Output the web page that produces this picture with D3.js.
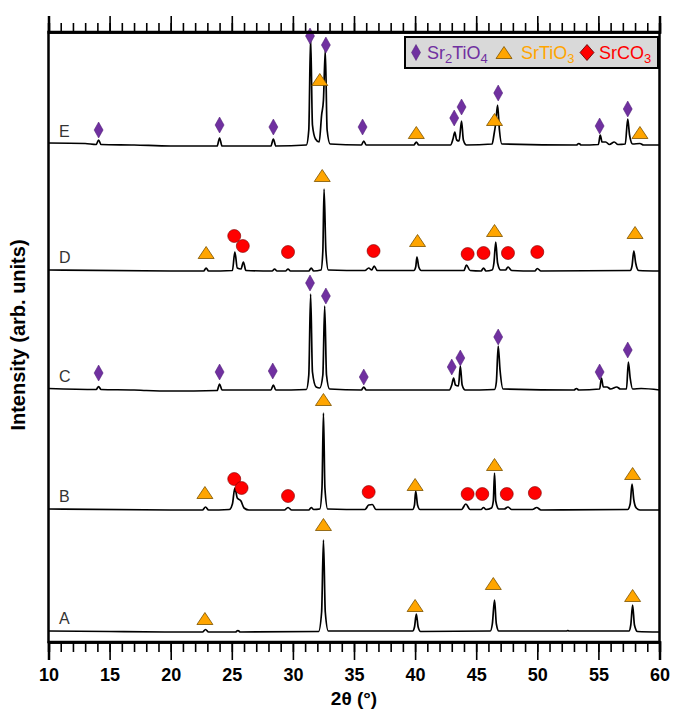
<!DOCTYPE html>
<html>
<head>
<meta charset="utf-8">
<script src="https://cdn.jsdelivr.net/npm/d3@7"></script>
<style>
  body { margin: 0; background: #fff; }
  svg { display: block; font-family: "Liberation Sans", Arial, sans-serif; }
</style>
</head>
<body>
<div id="chart"></div>
<script>
// patterns, [2θ, intensity above the trace baseline]
const traceA = [[10, 1], [15, 0.5], [20, 0], [22.6, 0], [22.85, 2.5], [23.1, 0], [25.3, 0], [25.5, 1.5], [25.7, 0],
  [32.1, 0.5], [32.35, 20], [32.5, 92], [32.65, 20], [32.9, 1], [39.8, 1], [39.95, 5], [40.1, 18], [40.25, 5], [40.45, 0.5],
  [46.15, 1], [46.32, 8], [46.5, 32], [46.65, 8], [46.85, 1], [52.4, 1], [52.5, 1.5], [52.6, 1],
  [57.5, 1], [57.65, 7], [57.8, 27], [57.95, 7], [58.2, 0.5], [60, 0]];
const traceB = [[10, 1], [20, 0], [22.6, 0], [22.85, 3], [23.1, 0], [24.8, 0.5], [25.05, 6], [25.25, 22], [25.45, 12],
  [25.75, 9], [26.0, 2], [26.4, 0], [29.3, 0], [29.6, 2.5], [29.9, 0], [31.3, 0], [31.5, 2.5], [31.7, 0.5],
  [32.2, 1], [32.38, 22], [32.5, 97], [32.62, 22], [32.85, 1], [35.9, 0.5], [36.2, 5], [36.5, 5.5], [36.8, 0.5],
  [39.8, 0.5], [39.95, 5], [40.05, 19], [40.2, 5], [40.4, 0.5], [43.8, 0.5], [44.15, 6], [44.5, 0.5],
  [45.4, 0.5], [45.6, 2.5], [45.8, 0.5], [46.25, 2], [46.4, 9], [46.5, 37], [46.6, 9], [46.85, 1],
  [47.3, 1], [47.6, 3], [47.9, 0.5], [49.6, 0.5], [49.95, 2.5], [50.3, 0],
  [57.4, 0.5], [57.6, 6], [57.75, 26], [57.9, 10], [58.1, 2], [58.4, 0], [60, 0]];
const traceC = [[10, 1.5], [13.9, 0.5], [14.1, 3.5], [14.3, 0.5], [17, 0], [18, -0.5], [20, -1], [23.8, -0.5], [24.0, 6], [24.2, 0],
  [28.2, 0], [28.4, 5], [28.6, 0], [31.1, 0.5], [31.3, 15], [31.45, 96], [31.6, 18], [31.9, 3], [32.2, 2],
  [32.45, 15], [32.6, 84], [32.75, 15], [33.0, 1], [35.6, 0], [35.8, 3], [36.0, 0],
  [42.8, 0], [43.0, 5], [43.15, 12], [43.3, 5], [43.55, 4], [43.7, 24], [43.85, 5], [44.1, 0],
  [46.5, 0.5], [46.65, 8], [46.8, 44], [46.95, 20], [47.2, 1], [53, 0], [53.2, 1.5], [53.4, 0],
  [55.1, 1], [55.25, 12], [55.4, 3], [55.7, 3], [56.0, 1], [56.5, 3], [56.8, 1],
  [57.3, 1], [57.45, 28], [57.6, 12], [57.8, 1], [58.5, 1.5], [60, 0]];
const traceD = [[10, 1], [20, 0], [22.7, 0], [22.9, 3], [23.1, 0], [25.05, 0.5], [25.25, 19], [25.45, 3], [25.75, 2],
  [25.95, 9], [26.15, 0.5], [28.3, 0], [28.5, 2], [28.7, 0], [29.4, 0], [29.6, 2], [29.8, 0], [31.3, 0], [31.5, 3], [31.7, 0],
  [32.3, 1], [32.45, 20], [32.55, 82], [32.7, 20], [32.9, 1], [35.9, 0.5], [36.2, 3], [36.45, 1], [36.65, 5], [36.9, 0.5],
  [39.9, 0.5], [40.05, 4], [40.15, 14], [40.3, 4], [40.5, 0.5], [44.0, 0.5], [44.2, 6], [44.5, 0.5],
  [45.4, 0], [45.6, 3], [45.8, 0], [46.3, 1], [46.45, 8], [46.6, 29], [46.75, 8], [47.0, 1],
  [47.4, 1], [47.6, 4], [47.9, 0.5], [49.8, 0], [50.0, 2.5], [50.3, 0],
  [57.6, 0.5], [57.75, 5], [57.9, 20], [58.05, 8], [58.3, 0.5], [60, 0]];
const traceE = [[10, 2], [13, 1.5], [13.9, 0.5], [14.1, 5], [14.3, 0.5], [17, 0], [20, -1], [23.8, -1], [24.0, 7], [24.2, -1],
  [28.2, -1], [28.4, 6], [28.6, -1], [31.1, 0], [31.3, 15], [31.45, 108], [31.6, 20], [31.85, 6], [32.15, 3],
  [32.35, 30], [32.5, 45], [32.65, 95], [32.8, 15], [33.05, 1], [35.6, 0], [35.8, 4], [36.0, 0],
  [39.9, 0], [40.1, 3], [40.3, 0], [42.9, 0], [43.1, 6], [43.25, 13], [43.4, 5], [43.6, 4], [43.8, 24], [43.95, 5], [44.2, 0],
  [46.3, 1], [46.45, 10], [46.6, 22], [46.75, 40], [46.9, 15], [47.1, 1], [53.2, 0], [53.4, 1.5], [53.6, 0],
  [55.0, 0.5], [55.15, 10], [55.3, 3], [55.6, 3], [55.9, 0.5], [56.3, 3], [56.6, 0.5],
  [57.2, 1], [57.4, 26], [57.55, 10], [57.8, 1], [58.4, 1.5], [58.7, 0], [60, 0]];

const sampleNames = ["A", "B", "C", "D", "E"];
const sampleOffsets = [10, 132, 252, 371, 497];
const samplePatterns = [traceA, traceB, traceC, traceD, traceE];

// phase markers: [sample, 2θ, height above baseline]
const sr2tio4Marks = [
  ["C", 14.1, 17], ["C", 24.0, 18], ["C", 28.35, 19], ["C", 31.4, 107], ["C", 32.7, 94], ["C", 35.8, 13],
  ["C", 43.0, 23], ["C", 43.7, 32], ["C", 46.8, 53], ["C", 55.1, 18], ["C", 57.4, 40],
  ["E", 14.1, 15], ["E", 24.0, 20], ["E", 28.4, 18], ["E", 31.4, 109], ["E", 32.7, 100], ["E", 35.7, 18],
  ["E", 43.2, 27], ["E", 43.8, 38], ["E", 46.8, 52], ["E", 55.1, 19], ["E", 57.4, 36]];
const srtio3Marks = [
  ["A", 22.8, 13], ["A", 32.5, 107], ["A", 40.0, 26], ["A", 46.4, 48], ["A", 57.8, 36],
  ["B", 22.8, 17], ["B", 32.5, 110], ["B", 40.0, 25], ["B", 46.5, 45], ["B", 57.8, 36],
  ["D", 22.9, 18], ["D", 32.4, 95], ["D", 40.2, 30], ["D", 46.5, 40], ["D", 58.0, 38],
  ["E", 32.2, 65], ["E", 40.1, 12], ["E", 46.5, 25], ["E", 58.4, 12]];
const srco3Marks = [
  ["B", 25.2, 31], ["B", 25.8, 22], ["B", 29.6, 14], ["B", 36.2, 18], ["B", 44.3, 16], ["B", 45.5, 16], ["B", 47.5, 16], ["B", 49.8, 17],
  ["D", 25.2, 35], ["D", 25.9, 25], ["D", 29.6, 19], ["D", 36.6, 20], ["D", 44.3, 17], ["D", 45.6, 18], ["D", 47.6, 18], ["D", 50.0, 19]];

const majorTicks = d3.range(10, 61, 5);
const minorTicks = d3.range(10, 61, 1);

const width = 674;
const height = 716;
const purple = "#7030a0", orange = "#ffa500", red = "#ff0000";

const svg = d3.select("#chart").append("svg")
  .attr("width", width)
  .attr("height", height);

const x = d3.scaleLinear().domain([10, 60]).range([48.5, 659.5]);
const y = d3.scaleLinear().domain([0, 610]).range([642, 32]);

const offsetOf = name => sampleOffsets[sampleNames.indexOf(name)];

// traces
const line = d3.line()
  .x(d => x(d[0]))
  .y(d => d[1])
  .curve(d3.curveMonotoneX);

samplePatterns.forEach((pat, i) => {
  svg.append("path")
    .attr("d", line(pat.map(p => [p[0], y(sampleOffsets[i] + p[1])])))
    .attr("fill", "none")
    .attr("stroke", "#000")
    .attr("stroke-width", 1.7)
    .attr("stroke-linejoin", "round");
});

// letters
svg.append("g").selectAll("text")
  .data(sampleNames)
  .join("text")
  .attr("x", 59)
  .attr("y", (d, i) => y(sampleOffsets[i] + 8))
  .attr("font-size", 16)
  .attr("fill", "#333")
  .text(d => d);

// markers
const diamond = "M0,-8L4.5,0L0,8L-4.5,0Z";
const triangle = "M0,-6.5L8,5.5L-8,5.5Z";

svg.append("g").selectAll("path")
  .data(sr2tio4Marks)
  .join("path")
  .attr("d", diamond)
  .attr("transform", d => `translate(${x(d[1])},${y(offsetOf(d[0]) + d[2])})`)
  .attr("fill", purple)
  .attr("stroke", "#4a1a70")
  .attr("stroke-width", 0.5);

svg.append("g").selectAll("path")
  .data(srtio3Marks)
  .join("path")
  .attr("d", triangle)
  .attr("transform", d => `translate(${x(d[1])},${y(offsetOf(d[0]) + d[2])})`)
  .attr("fill", orange)
  .attr("stroke", "#7a5200")
  .attr("stroke-width", 0.8);

svg.append("g").selectAll("circle")
  .data(srco3Marks)
  .join("circle")
  .attr("cx", d => x(d[1]))
  .attr("cy", d => y(offsetOf(d[0]) + d[2]))
  .attr("r", 6.5)
  .attr("fill", red)
  .attr("stroke", "#700")
  .attr("stroke-width", 0.6);

// frame
svg.append("rect")
  .attr("x", x(10)).attr("y", y(610))
  .attr("width", x(60) - x(10)).attr("height", y(0) - y(610))
  .attr("fill", "none")
  .attr("stroke", "#000")
  .attr("stroke-width", 2.5);

// axes
const bottomMinor = svg.append("g").attr("transform", `translate(0,${y(0)})`)
  .call(d3.axisBottom(x).tickValues(minorTicks).tickSize(10).tickFormat(""));
const bottomMajor = svg.append("g").attr("transform", `translate(0,${y(0)})`)
  .call(d3.axisBottom(x).tickValues(majorTicks).tickSize(18).tickPadding(8).tickFormat(d3.format("d")));
const topMinor = svg.append("g").attr("transform", `translate(0,${y(610)})`)
  .call(d3.axisTop(x).tickValues(minorTicks).tickSize(9).tickFormat(""));
const topMajor = svg.append("g").attr("transform", `translate(0,${y(610)})`)
  .call(d3.axisTop(x).tickValues(majorTicks).tickSize(16).tickFormat(""));

[bottomMinor, bottomMajor, topMinor, topMajor].forEach(g => {
  g.select(".domain").attr("stroke-width", 2.5);
  g.selectAll(".tick line").attr("stroke-width", 1.6);
});
bottomMajor.selectAll(".tick text")
  .attr("font-size", 18)
  .attr("font-weight", "bold")
  .attr("font-family", "Liberation Sans, Arial, sans-serif")
  .attr("fill", "#000");

// axis titles
svg.append("text")
  .attr("x", x(35))
  .attr("y", 705)
  .attr("text-anchor", "middle")
  .attr("font-size", 19)
  .attr("font-weight", "bold")
  .text("2θ (°)");

svg.append("text")
  .attr("transform", `translate(25,${y(307)}) rotate(-90)`)
  .attr("text-anchor", "middle")
  .attr("font-size", 20)
  .attr("font-weight", "bold")
  .text("Intensity (arb. units)");

// legend
const legend = svg.append("g").attr("transform", "translate(405,37)");
legend.append("rect")
  .attr("width", 253).attr("height", 31)
  .attr("fill", "#d9d9d9")
  .attr("stroke", "#000")
  .attr("stroke-width", 2);

legend.append("path").attr("d", diamond).attr("transform", "translate(11,15.5)")
  .attr("fill", purple).attr("stroke", "#4a1a70").attr("stroke-width", 0.5);
legend.append("path").attr("d", triangle).attr("transform", "translate(99,16)")
  .attr("fill", orange).attr("stroke", "#7a5200").attr("stroke-width", 0.8);
legend.append("path").attr("d", "M0,-8L7,0L0,8L-7,0Z").attr("transform", "translate(182,15.5)")
  .attr("fill", red).attr("stroke", "#500").attr("stroke-width", 0.8);

const legendItems = [
  { x: 22, color: purple, parts: ["Sr", "2", "TiO", "4"] },
  { x: 116, color: orange, parts: ["SrTiO", "3"] },
  { x: 194, color: red, parts: ["SrCO", "3"] }
];
legendItems.forEach(item => {
  const t = legend.append("text")
    .attr("x", item.x)
    .attr("y", 21.5)
    .attr("font-size", 18)
    .attr("fill", item.color);
  item.parts.forEach((p, k) => {
    const sub = k % 2 === 1;
    t.append("tspan")
      .attr("font-size", sub ? 13 : 18)
      .attr("dy", sub ? 4 : (k > 0 ? -4 : 0))
      .text(p);
  });
});
</script>
</body>
</html>
